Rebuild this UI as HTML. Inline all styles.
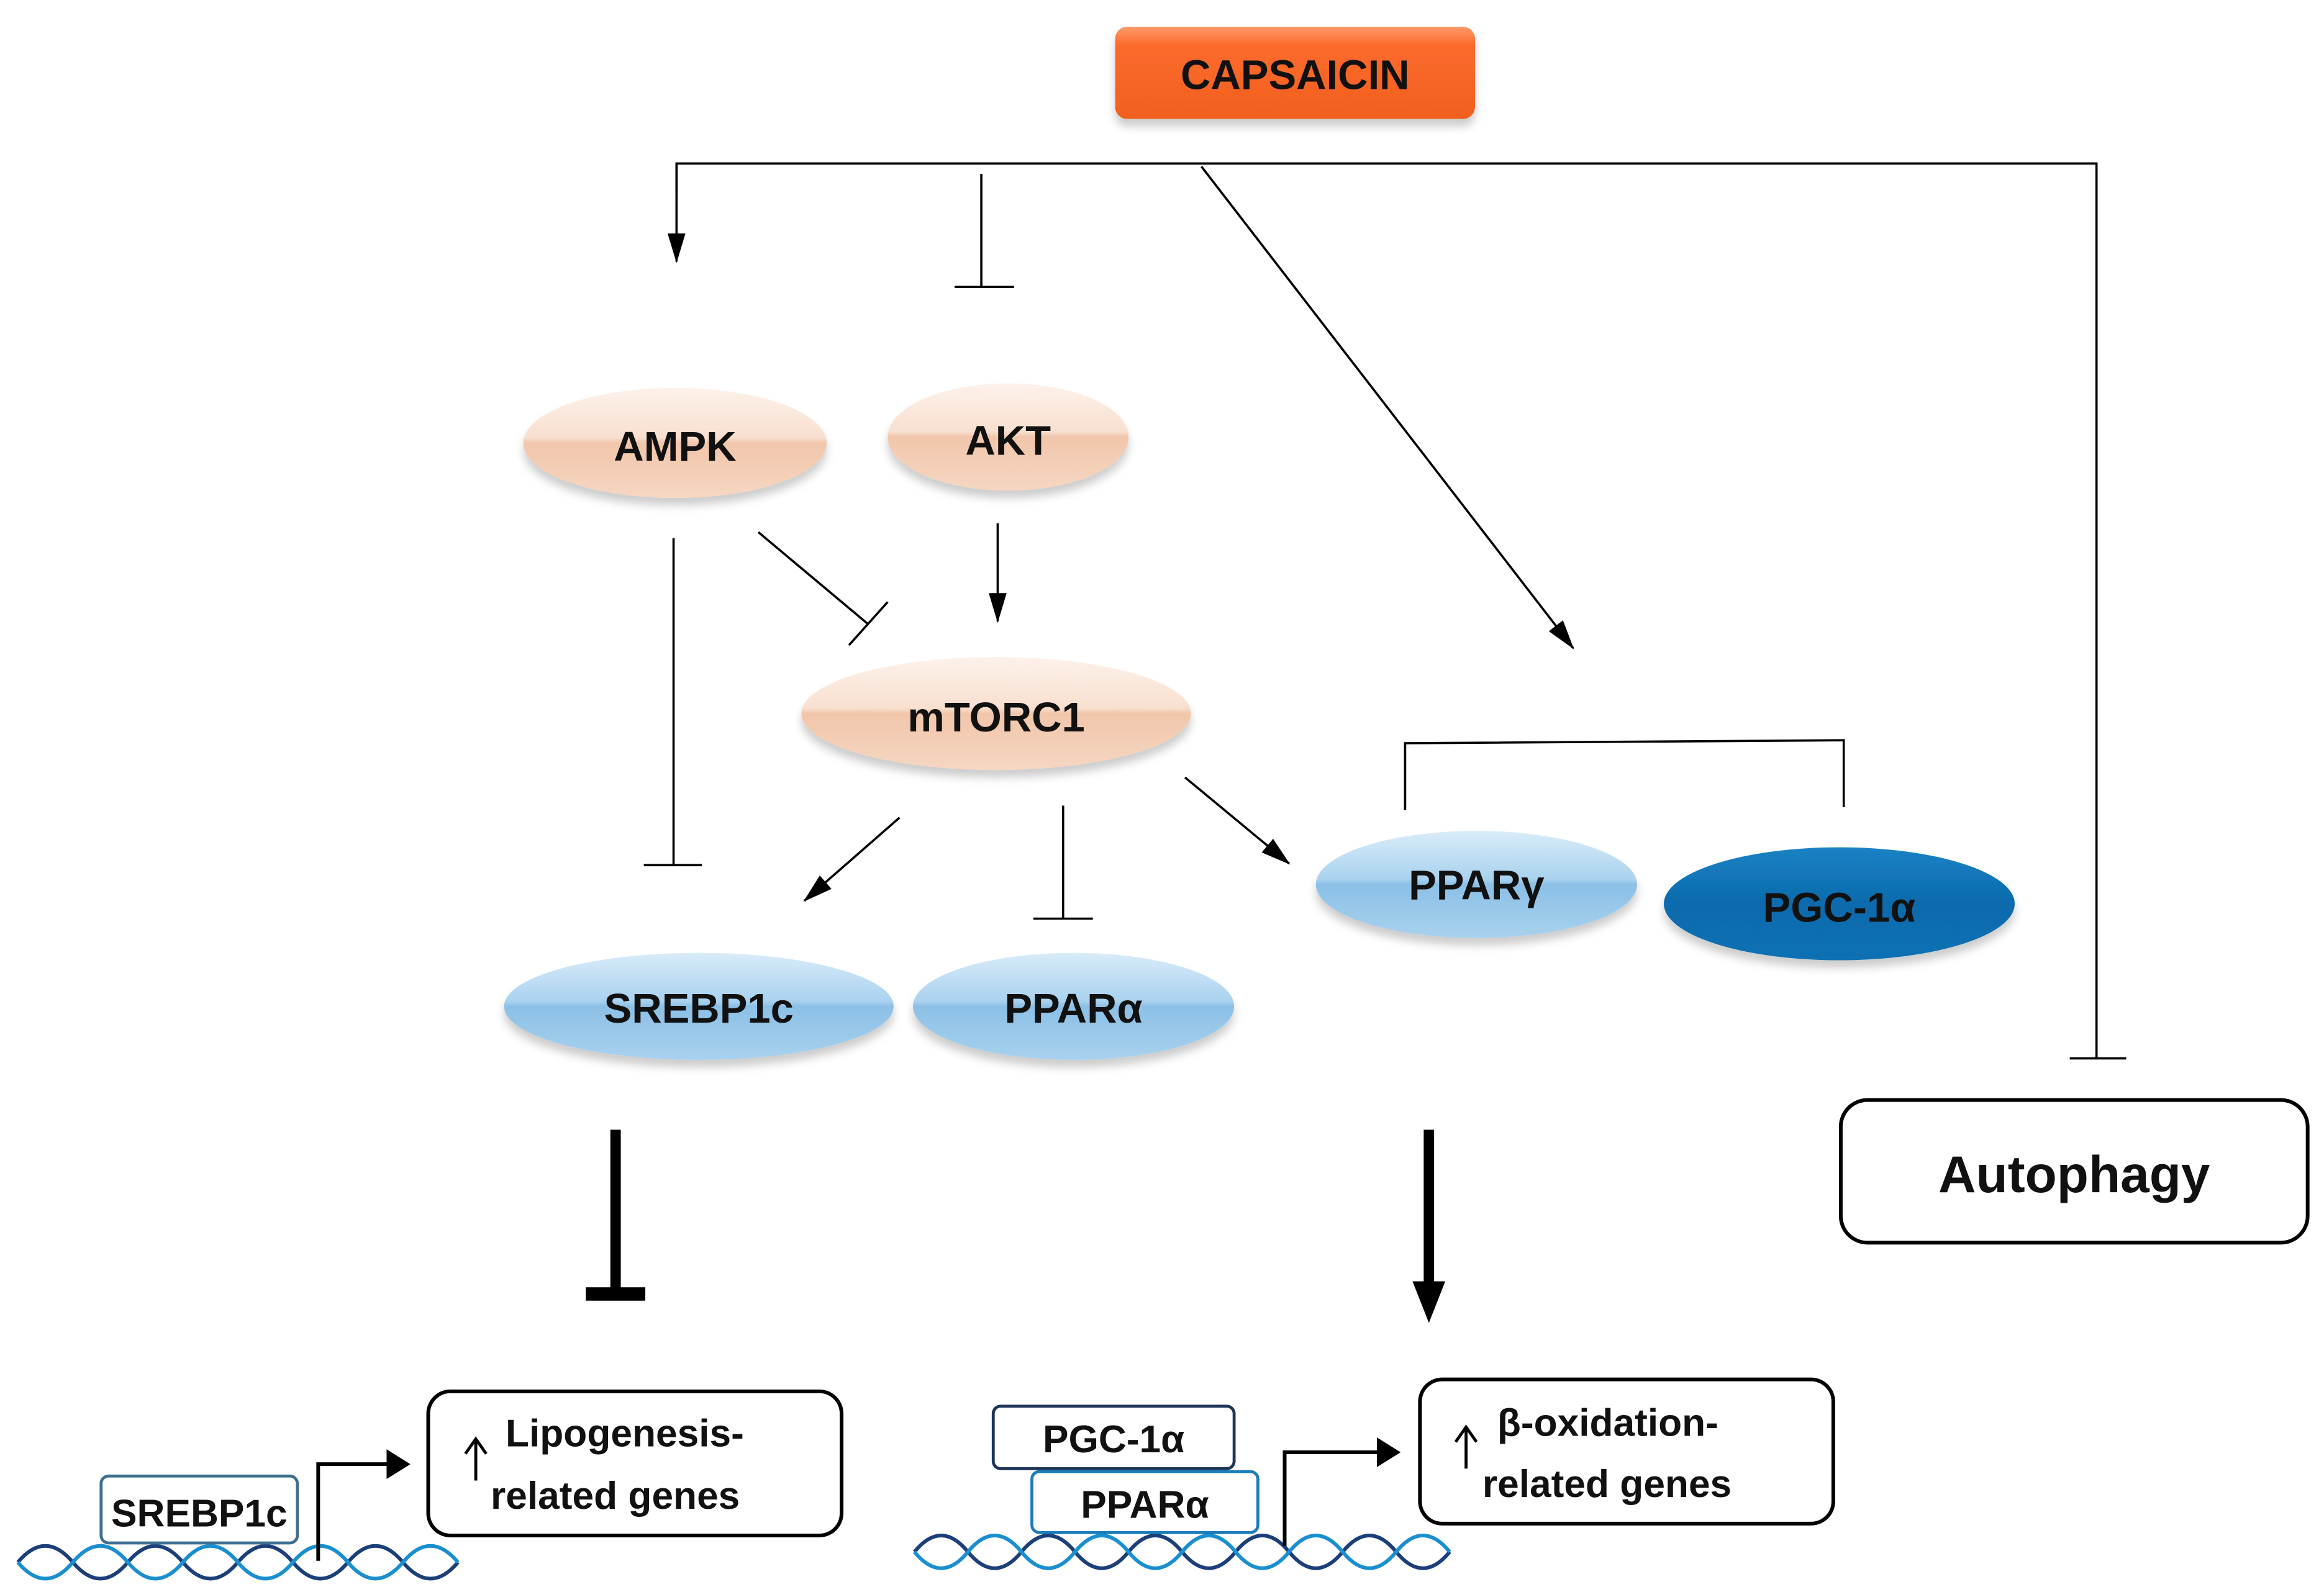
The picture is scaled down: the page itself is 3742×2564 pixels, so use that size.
<!DOCTYPE html>
<html><head><meta charset="utf-8"><style>
html,body{margin:0;padding:0;background:#fff;}
svg{display:block;}
text{font-family:"Liberation Sans",sans-serif;font-weight:bold;fill:#111;}
</style></head><body>
<svg width="3742" height="2564" viewBox="0 0 1563 1071" preserveAspectRatio="none" xmlns="http://www.w3.org/2000/svg">
<defs>
<linearGradient id="og" x1="0" y1="0" x2="0" y2="1"><stop offset="0" stop-color="#ff9a6a"/><stop offset="0.2" stop-color="#fb6a2c"/><stop offset="1" stop-color="#f2601f"/></linearGradient>
<linearGradient id="pg" x1="0" y1="0" x2="0" y2="1"><stop offset="0" stop-color="#fdf1ea"/><stop offset="0.45" stop-color="#f8e0d0"/><stop offset="0.5" stop-color="#f1c6ab"/><stop offset="1" stop-color="#f6d6c2"/></linearGradient>
<linearGradient id="bg" x1="0" y1="0" x2="0" y2="1"><stop offset="0" stop-color="#d9ecf9"/><stop offset="0.45" stop-color="#aad2ef"/><stop offset="0.5" stop-color="#8cc0e6"/><stop offset="1" stop-color="#a8d1ee"/></linearGradient>
<linearGradient id="dg" x1="0" y1="0" x2="0" y2="1"><stop offset="0" stop-color="#1b82c4"/><stop offset="0.5" stop-color="#0a6aac"/><stop offset="1" stop-color="#0b71b4"/></linearGradient>
<filter id="sh" x="-20%" y="-20%" width="140%" height="160%"><feDropShadow dx="0" dy="5" stdDeviation="3" flood-color="#000" flood-opacity="0.2"/></filter>
<marker id="ah" markerWidth="20" markerHeight="12" refX="19" refY="6" orient="auto" markerUnits="userSpaceOnUse"><path d="M0,0 L20,6 L0,12 Z" fill="#000"/></marker>
</defs>

<rect x="750" y="18" width="242" height="62" rx="8" fill="url(#og)" filter="url(#sh)"/>
<text x="871" y="60" font-size="28" text-anchor="middle">CAPSAICIN</text>

<g stroke="#000" stroke-width="1.5" fill="none">
<polyline points="455,130 455,110 1410,110 1410,712"/>
<line x1="1392" y1="712" x2="1430" y2="712"/>
<line x1="455" y1="110" x2="455" y2="176" marker-end="url(#ah)"/>
<line x1="660" y1="117" x2="660" y2="193"/>
<line x1="642" y1="193" x2="682" y2="193"/>
<line x1="808" y1="112" x2="1058" y2="436" marker-end="url(#ah)"/>
<line x1="453" y1="362" x2="453" y2="582"/>
<line x1="433" y1="582" x2="472" y2="582"/>
<line x1="510" y1="358" x2="584" y2="420"/>
<line x1="571" y1="434" x2="597" y2="405"/>
<line x1="671" y1="352" x2="671" y2="418" marker-end="url(#ah)"/>
<line x1="605" y1="550" x2="541" y2="606" marker-end="url(#ah)"/>
<line x1="715" y1="542" x2="715" y2="618"/>
<line x1="695" y1="618" x2="735" y2="618"/>
<line x1="797" y1="523" x2="867" y2="581" marker-end="url(#ah)"/>
<polyline points="945,545 945,500 1240,498 1240,543"/>
</g>

<g filter="url(#sh)">
<ellipse cx="454" cy="298" rx="102" ry="37" fill="url(#pg)"/>
<ellipse cx="678" cy="294" rx="81" ry="36" fill="url(#pg)"/>
<ellipse cx="670" cy="480" rx="131" ry="38" fill="url(#pg)"/>
<ellipse cx="993" cy="595" rx="108" ry="36" fill="url(#bg)"/>
<ellipse cx="1237" cy="608" rx="118" ry="38" fill="url(#dg)"/>
<ellipse cx="470" cy="677" rx="131" ry="36" fill="url(#bg)"/>
<ellipse cx="722" cy="677" rx="108" ry="36" fill="url(#bg)"/>
</g>
<g font-size="28" text-anchor="middle">
<text x="454" y="310">AMPK</text>
<text x="678" y="306">AKT</text>
<text x="670" y="492">mTORC1</text>
<text x="993" y="605">PPARγ</text>
<text x="1237" y="620">PGC-1α</text>
<text x="470" y="688">SREBP1c</text>
<text x="722" y="688">PPARα</text>
</g>

<rect x="1238" y="740" width="314" height="96" rx="18" fill="#fff" stroke="#000" stroke-width="2.5"/>
<text x="1395" y="802" font-size="35" text-anchor="middle">Autophagy</text>

<line x1="414" y1="760" x2="414" y2="868" stroke="#000" stroke-width="7"/>
<rect x="394" y="866" width="40" height="9" fill="#000"/>
<line x1="961" y1="760" x2="961" y2="866" stroke="#000" stroke-width="7"/>
<path d="M950,862 L972,862 L961,890 Z" fill="#000"/>

<path d="M12,1051 q18.5,-22 37,0 t37,0 t37,0 t37,0 t37,0 t37,0 t37,0 t37,0" stroke="#1c3f7a" stroke-width="2.5" fill="none"/>
<path d="M12,1051 q18.5,22 37,0 t37,0 t37,0 t37,0 t37,0 t37,0 t37,0 t37,0" stroke="#1a8fd0" stroke-width="2.5" fill="none"/>
<rect x="68" y="993" width="132" height="45" rx="5" fill="#fff" stroke="#3f6f8f" stroke-width="2"/>
<text x="134" y="1027" font-size="26" text-anchor="middle">SREBP1c</text>
<polyline points="214,1050 214,985 262,985" stroke="#000" stroke-width="2.5" fill="none"/>
<path d="M260,975 L276,985 L260,995 Z" fill="#000"/>
<rect x="288" y="936" width="278" height="97" rx="15" fill="#fff" stroke="#000" stroke-width="2.5"/>
<line x1="320" y1="970" x2="320" y2="996" stroke="#000" stroke-width="2"/>
<polyline points="313,978 320,968 327,978" stroke="#000" stroke-width="2" fill="none"/>
<text x="340" y="973" font-size="26">Lipogenesis-</text>
<text x="330" y="1015" font-size="26">related genes</text>

<path d="M615,1044 q18,-22 36,0 t36,0 t36,0 t36,0 t36,0 t36,0 t36,0 t36,0 t36,0 t36,0" stroke="#1c3f7a" stroke-width="2.5" fill="none"/>
<path d="M615,1044 q18,22 36,0 t36,0 t36,0 t36,0 t36,0 t36,0 t36,0 t36,0 t36,0 t36,0" stroke="#1a8fd0" stroke-width="2.5" fill="none"/>
<rect x="668" y="946" width="162" height="42" rx="5" fill="#fff" stroke="#1c3559" stroke-width="2"/>
<text x="749" y="977" font-size="26" text-anchor="middle">PGC-1α</text>
<rect x="694" y="990" width="152" height="41" rx="5" fill="#fff" stroke="#1a7cb8" stroke-width="2"/>
<text x="770" y="1021" font-size="26" text-anchor="middle">PPARα</text>
<polyline points="864,1040 864,977 928,977" stroke="#000" stroke-width="2.5" fill="none"/>
<path d="M926,967 L942,977 L926,987 Z" fill="#000"/>
<rect x="955" y="928" width="278" height="97" rx="15" fill="#fff" stroke="#000" stroke-width="2.5"/>
<line x1="986" y1="962" x2="986" y2="988" stroke="#000" stroke-width="2"/>
<polyline points="979,970 986,960 993,970" stroke="#000" stroke-width="2" fill="none"/>
<text x="1007" y="966" font-size="26">β-oxidation-</text>
<text x="997" y="1007" font-size="26">related genes</text>
</svg>
</body></html>
